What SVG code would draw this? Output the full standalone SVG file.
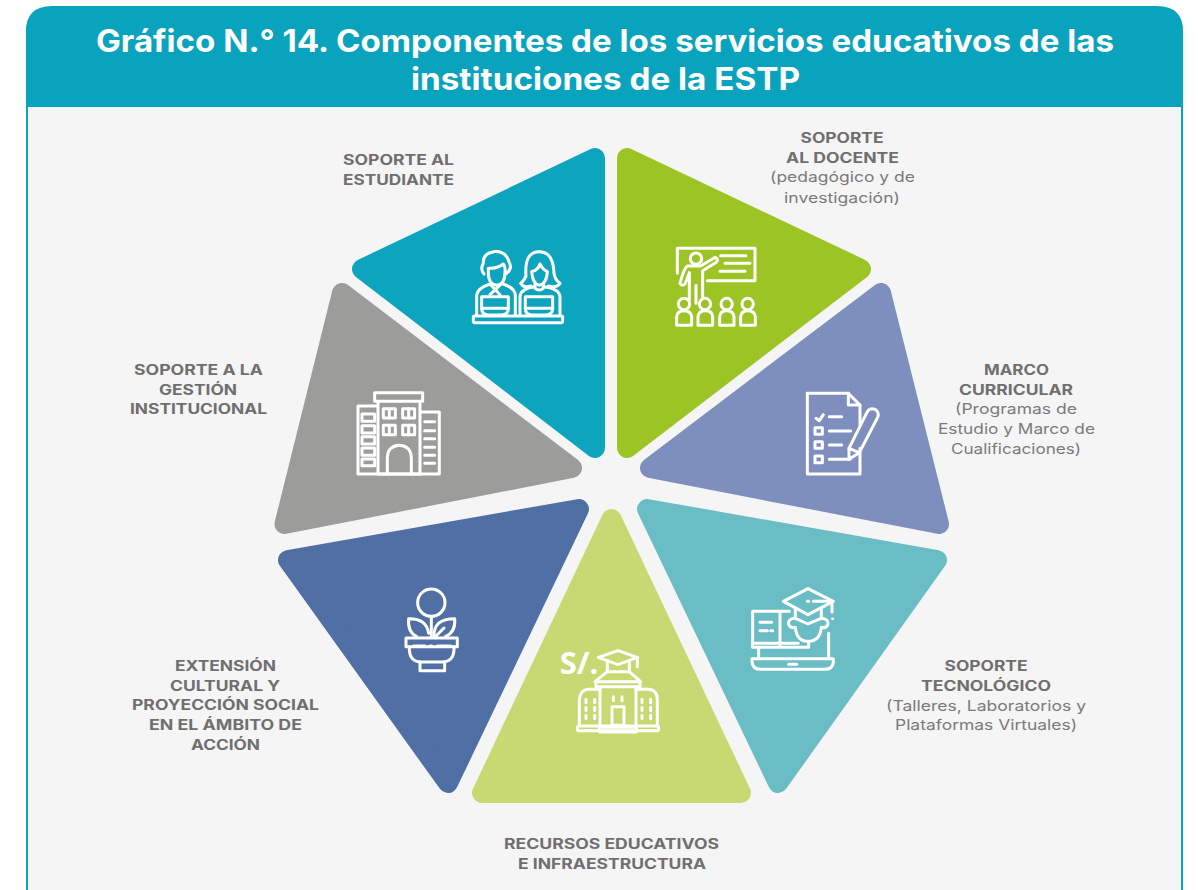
<svg xmlns="http://www.w3.org/2000/svg" width="1198" height="890" viewBox="0 0 1198 890">
<style>
text{font-family:"Inter","Liberation Sans",sans-serif;text-anchor:middle}
.t{font-size:31px;font-weight:700;fill:#fff}
.b{font-size:14px;font-weight:700;fill:#706f6f}
.r{font-size:14.500px;font-weight:400;fill:#7a7a7a}
.p{stroke-width:20;stroke-linejoin:round}
.i{fill:none;stroke:#fff;stroke-width:9;stroke-linecap:round;stroke-linejoin:round}
</style>
<rect width="1198" height="890" fill="#fff"/>
<g id="panel">
<path d="M27 900V32Q27 7 52 7H1157Q1182 7 1182 32V900Z" fill="#f5f5f5" stroke="#0aa3bd" stroke-width="2"/>
<path d="M26 107V32Q26 7 51 7H1157Q1183 7 1183 32V107Z" fill="#0aa3bd"/>
<text class="t" x="605" y="52" textLength="1018" lengthAdjust="spacingAndGlyphs">Gráfico N.° 14. Componentes de los servicios educativos de las</text>
<text class="t" x="605.500" y="90" textLength="389" lengthAdjust="spacingAndGlyphs">instituciones de la ESTP</text>
</g>
<g id="n-estudiante">
<polygon class="p" points="595,158 362,269 595,448" fill="#0da5bd" stroke="#0da5bd"/>
<g class="i" transform="translate(340,140) scale(.3333)">
<rect x="400" y="528" width="268" height="20" rx="4"/>
<path d="M432 402Q420 388 430 370Q428 340 462 335Q498 332 508 368Q518 385 500 400"/>
<path d="M445 385Q472 386 490 372Q497 380 495 398Q495 432 470 436Q445 432 445 398Z"/>
<path d="M410 525V465Q412 445 450 432M490 432Q525 445 526 465V525"/>
<path d="M450 432L480 464M484 432L450 464"/>
<path d="M425 470H505V505Q505 525 485 525H445Q425 525 425 505Z"/>
<path d="M425 505H505"/>
<path d="M558 410Q552 335 598 335Q640 335 642 400Q645 420 660 430Q650 445 625 438M558 405Q555 420 542 430Q550 445 572 438"/>
<path d="M575 395Q595 390 600 372Q610 390 622 395Q620 432 598 436Q578 432 575 395Z"/>
<path d="M585 430V445Q598 455 610 445V430"/>
<path d="M540 525V470Q542 445 585 440M610 440Q658 445 660 470V525"/>
<path d="M556 470H638V505Q638 525 618 525H576Q556 525 556 505Z"/>
<path d="M556 505H638"/>
</g>
</g>
<g id="n-docente">
<polygon class="p" points="627,158 861,269 627,448" fill="#9dc425" stroke="#9dc425"/>
<g class="i" transform="translate(610,140) scale(.3333)">
<path d="M202 400V325H435V422H292"/>
<path d="M332 347H408M345 370H420M330 394H405"/>
<circle cx="258" cy="356" r="17"/>
<path d="M232 378H272L316 352Q326 356 320 366L278 392V470M232 378Q222 385 210 430Q218 442 226 430L238 398V480M258 436V490"/>
<circle cx="222" cy="492" r="17"/><circle cx="285" cy="492" r="17"/><circle cx="350" cy="492" r="17"/><circle cx="413" cy="492" r="17"/>
<path d="M200 556V530Q202 512 222 512Q243 512 245 530V556Z"/>
<path d="M264 556V530Q266 512 286 512Q307 512 308 530V556Z"/>
<path d="M329 556V530Q331 512 350 512Q370 512 372 530V556Z"/>
<path d="M392 556V530Q394 512 413 512Q434 512 436 530V556Z"/>
</g>
</g>
<g id="n-curricular">
<polygon class="p" points="881,293 939,524 650,468" fill="#7e8fbd" stroke="#7e8fbd"/>
<g class="i" transform="translate(780,380) scale(.3333)">
<path d="M205 40H82V282H240V205M240 75V135"/>
<path d="M205 40L240 75H205Z"/>
<path d="M108 115L118 122L130 104M148 110H185M148 153H212M148 195H185M148 238H210"/>
<rect x="105" y="143" width="22" height="20"/><rect x="105" y="185" width="22" height="20"/><rect x="105" y="228" width="22" height="20"/>
<path d="M207 205L262 95Q270 82 285 88Q299 97 293 112L238 218L207 238Z"/>
<path d="M207 205L238 218"/>
</g>
</g>
<g id="n-tecnologico">
<polygon class="p" points="937,560 778,783 647,509" fill="#6bbdc5" stroke="#6bbdc5"/>
<g class="i" transform="translate(730,570) scale(.3333)">
<path d="M160 94L234 56L310 94L234 134Z"/>
<path d="M232 94H236M250 94H300M306 94V126M308 146V146"/>
<path d="M196 114V145M274 116V145"/>
<path d="M196 145L234 162L274 145"/>
<path d="M192 145Q172 148 176 164Q182 176 196 172Q200 214 234 214Q270 214 274 172Q290 176 294 162Q296 148 276 145"/>
<path d="M178 124H150V232H68V124H150M150 124V214M68 220H150M150 220H205M150 232H236V216"/>
<path d="M90 157H125M90 182H112M122 182H128"/>
<path d="M86 232V262M296 190V262"/>
<path d="M66 266H310V276Q308 298 285 298H92Q68 298 66 276Z"/>
<path d="M176 283H200"/>
</g>
</g>
<g id="n-recursos">
<polygon class="p" points="611.500,519 482,793 741,793" fill="#c8d973" stroke="#c8d973"/>
<text x="579" y="674" style="font-family:'Open Sans','Liberation Sans',sans-serif;font-size:31px;font-weight:700;fill:#fff">S/.</text>
<g class="i" transform="translate(550,640) scale(.3333)">
<path d="M145 52L204 32L262 52L204 74Z"/>
<path d="M172 62V95H238V62M262 52V80"/>
<path d="M172 95L135 125H272L238 95"/>
<path d="M138 125V140H270V125"/>
<path d="M150 140V258M258 140V258"/>
<path d="M150 148H115Q90 150 88 180V258M258 148H295Q322 150 322 180V258"/>
<rect x="82" y="258" width="244" height="14" rx="5"/>
<rect x="148" y="262" width="112" height="14" rx="4"/>
<rect x="186" y="200" width="36" height="56"/>
<path d="M190 170V182M216 170V182M108 178V188M134 178V188M108 202V212M134 202V212M108 226V236M134 226V236M276 178V188M302 178V188M276 202V212M302 202V212M276 226V236M302 226V236"/>
</g>
</g>
<g id="n-extension">
<polygon class="p" points="579,509 288,560 448,783" fill="#506fa5" stroke="#506fa5"/>
<g class="i" transform="translate(380,570) scale(.3333)">
<circle cx="154" cy="98" r="41"/>
<path d="M154 140V200"/>
<path d="M146 190Q140 145 86 146Q82 186 110 200"/>
<path d="M162 200Q160 146 224 146Q228 186 196 200"/>
<path d="M168 198L192 174"/>
<path d="M78 204H232V230H78Z"/>
<path d="M88 230V240Q90 276 124 276H186Q220 276 222 240V230"/>
<path d="M120 276V302H194V276"/>
<path d="M100 228H135M150 228H156M172 228H212"/>
</g>
</g>
<g id="n-gestion">
<polygon class="p" points="342,293 284.500,524 572,468" fill="#9c9c9b" stroke="#9c9c9b"/>
<g class="i" transform="translate(340,380) scale(.3333)">
<rect x="104" y="38" width="144" height="26"/>
<path d="M114 64V282H240V64"/>
<path d="M112 78H54V282H298V96H242"/>
<rect x="66" y="102" width="38" height="22"/><rect x="66" y="137" width="38" height="22"/><rect x="66" y="170" width="38" height="22"/><rect x="66" y="204" width="38" height="22"/><rect x="66" y="237" width="38" height="20"/>
<rect x="130" y="86" width="36" height="28"/><rect x="188" y="86" width="36" height="28"/><rect x="130" y="136" width="36" height="28"/><rect x="188" y="136" width="36" height="28"/>
<path d="M148 86V114M206 86V114M148 136V164M206 136V164"/>
<path d="M142 282V232Q144 198 178 196Q212 198 214 232V282"/>
<path d="M254 125H284M254 152H284M254 176H284M254 202H284M254 226H284M254 250H284"/>
</g>
</g>
<g id="labels">
<text class="b" x="398.500" y="165" textLength="111" lengthAdjust="spacingAndGlyphs">SOPORTE AL</text>
<text class="b" x="398.500" y="185" textLength="111" lengthAdjust="spacingAndGlyphs">ESTUDIANTE</text>
<text class="b" x="842" y="143" textLength="83" lengthAdjust="spacingAndGlyphs">SOPORTE</text>
<text class="b" x="842.500" y="163" textLength="113" lengthAdjust="spacingAndGlyphs">AL DOCENTE</text>
<text class="r" x="842.500" y="182" textLength="145" lengthAdjust="spacingAndGlyphs">(pedagógico y de</text>
<text class="r" x="842" y="203" textLength="116" lengthAdjust="spacingAndGlyphs">investigación)</text>
<text class="b" x="1016.500" y="375" textLength="65" lengthAdjust="spacingAndGlyphs">MARCO</text>
<text class="b" x="1016" y="395" textLength="114" lengthAdjust="spacingAndGlyphs">CURRICULAR</text>
<text class="r" x="1016" y="414" textLength="122" lengthAdjust="spacingAndGlyphs">(Programas de</text>
<text class="r" x="1016.500" y="434" textLength="157" lengthAdjust="spacingAndGlyphs">Estudio y Marco de</text>
<text class="r" x="1016" y="454" textLength="130" lengthAdjust="spacingAndGlyphs">Cualificaciones)</text>
<text class="b" x="198.500" y="375" textLength="129" lengthAdjust="spacingAndGlyphs">SOPORTE A LA</text>
<text class="b" x="198" y="395" textLength="78" lengthAdjust="spacingAndGlyphs">GESTIÓN</text>
<text class="b" x="198.500" y="414" textLength="137" lengthAdjust="spacingAndGlyphs">INSTITUCIONAL</text>
<text class="b" x="225.500" y="671" textLength="101" lengthAdjust="spacingAndGlyphs">EXTENSIÓN</text>
<text class="b" x="225" y="691" textLength="110" lengthAdjust="spacingAndGlyphs">CULTURAL Y</text>
<text class="b" x="225.500" y="710" textLength="187" lengthAdjust="spacingAndGlyphs">PROYECCIÓN SOCIAL</text>
<text class="b" x="225.500" y="730" textLength="153" lengthAdjust="spacingAndGlyphs">EN EL ÁMBITO DE</text>
<text class="b" x="225.500" y="750" textLength="69" lengthAdjust="spacingAndGlyphs">ACCIÓN</text>
<text class="b" x="986" y="671" textLength="83" lengthAdjust="spacingAndGlyphs">SOPORTE</text>
<text class="b" x="986" y="691" textLength="130" lengthAdjust="spacingAndGlyphs">TECNOLÓGICO</text>
<text class="r" x="986" y="711" textLength="200" lengthAdjust="spacingAndGlyphs">(Talleres, Laboratorios y</text>
<text class="r" x="986" y="730" textLength="182" lengthAdjust="spacingAndGlyphs">Plataformas Virtuales)</text>
<text class="b" x="611.500" y="849" textLength="215" lengthAdjust="spacingAndGlyphs">RECURSOS EDUCATIVOS</text>
<text class="b" x="612" y="869" textLength="188" lengthAdjust="spacingAndGlyphs">E INFRAESTRUCTURA</text>
</g>
<g id="connectors"/>
</svg>
